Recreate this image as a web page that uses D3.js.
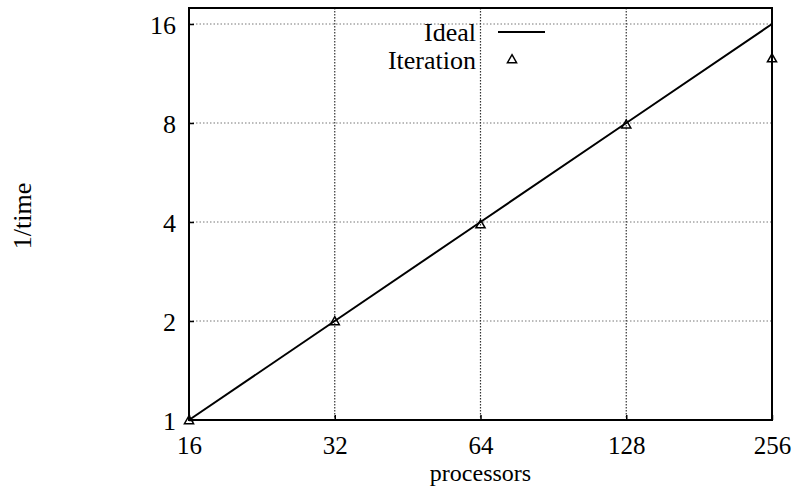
<!DOCTYPE html>
<html>
<head>
<meta charset="utf-8">
<script src="https://cdn.jsdelivr.net/npm/d3@7"></script>
<style>
  html, body { margin: 0; padding: 0; background: #fff; }
  svg { display: block; }
  text { font-family: "Liberation Serif", "Times New Roman", serif; fill: #000; }
</style>
</head>
<body>
<svg id="chart" width="796" height="487"></svg>
<script>
// ---- data ----
const processors = [16, 32, 64, 128, 256];
const idealValues = [1, 2, 4, 8, 16];
const iterationValues = [1, 2, 3.94, 7.93, 12.6];
const xTickLabels = ["16", "32", "64", "128", "256"];
const yTicks = [1, 2, 4, 8, 16];
const yTickLabels = ["1", "2", "4", "8", "16"];
const legendLabels = ["Ideal", "Iteration"];

// ---- layout ----
const mLeft = 189, mRight = 772, mTop = 8, mBottom = 420;
const yTopGrid = 24;

const svg = d3.select("#chart");

const x = d3.scaleLog().base(2).domain([16, 256]).range([mLeft, mRight]);
const y = d3.scaleLog().base(2).domain([1, 16]).range([mBottom, yTopGrid]);

// gridlines
const grid = svg.append("g");
grid.selectAll("line.h").data(yTicks.slice(1)).join("line")
  .attr("x1", mLeft).attr("x2", mRight)
  .attr("y1", d => y(d)).attr("y2", d => y(d))
  .attr("stroke", "#777").attr("stroke-width", 1)
  .attr("stroke-dasharray", "1.5,2");
grid.selectAll("line.v").data(processors.slice(1, -1)).join("line")
  .attr("y1", mTop).attr("y2", mBottom)
  .attr("x1", d => x(d)).attr("x2", d => x(d))
  .attr("stroke", "#333").attr("stroke-width", 1.2)
  .attr("stroke-dasharray", "1.5,1.5");

// axes (ticks inward)
const xAxis = d3.axisBottom(x).tickValues(processors)
  .tickFormat((d, i) => xTickLabels[i]).tickSizeInner(-5).tickSizeOuter(0).tickPadding(22);
const gx = svg.append("g").attr("transform", `translate(0,${mBottom})`).call(xAxis);
gx.select(".domain").remove();
gx.selectAll("line").attr("stroke", "#000").attr("stroke-width", 1.5);
gx.selectAll("text").attr("font-size", 25)
  .attr("font-family", "'Liberation Serif', serif").attr("fill", "#000")
  .attr("dy", null).attr("y", 34);

const yAxis = d3.axisLeft(y).tickValues(yTicks)
  .tickFormat((d, i) => yTickLabels[i]).tickSizeInner(-5).tickSizeOuter(0).tickPadding(13);
const gy = svg.append("g").attr("transform", `translate(${mLeft},0)`).call(yAxis);
gy.select(".domain").remove();
gy.selectAll("line").attr("stroke", "#000").attr("stroke-width", 1.5);
gy.selectAll("text").attr("font-size", 26)
  .attr("font-family", "'Liberation Serif', serif").attr("fill", "#000")
  .attr("dy", "0.36em");

// frame
svg.append("rect")
  .attr("x", mLeft).attr("y", mTop)
  .attr("width", mRight - mLeft).attr("height", mBottom - mTop)
  .attr("fill", "none").attr("stroke", "#000").attr("stroke-width", 2);

// ideal line
const line = d3.line().x(d => x(d[0])).y(d => y(d[1]));
svg.append("path")
  .datum(processors.map((p, i) => [p, idealValues[i]]))
  .attr("d", line)
  .attr("fill", "none").attr("stroke", "#000").attr("stroke-width", 2);

// iteration markers
const tri = d3.symbol().type(d3.symbolTriangle).size(36);
svg.selectAll("path.pt").data(processors.map((p, i) => [p, iterationValues[i]])).join("path")
  .attr("class", "pt")
  .attr("d", tri)
  .attr("transform", d => `translate(${x(d[0])},${y(d[1]) + 1})`)
  .attr("fill", "none").attr("stroke", "#000").attr("stroke-width", 1.5);

// legend
const lg = svg.append("g");
lg.append("text").attr("x", 476).attr("y", 41).attr("text-anchor", "end")
  .attr("font-size", 26).text(legendLabels[0]);
lg.append("line").attr("x1", 498).attr("x2", 545).attr("y1", 32).attr("y2", 32)
  .attr("stroke", "#000").attr("stroke-width", 2);
lg.append("text").attr("x", 476).attr("y", 69).attr("text-anchor", "end")
  .attr("font-size", 26).text(legendLabels[1]);
lg.append("path").attr("d", tri).attr("transform", "translate(512,60)")
  .attr("fill", "none").attr("stroke", "#000").attr("stroke-width", 1.5);

// axis titles
svg.append("text").attr("x", (mLeft + mRight) / 2).attr("y", 481)
  .attr("text-anchor", "middle").attr("font-size", 24).text("processors");
svg.append("text").attr("transform", `translate(31,216) rotate(-90)`)
  .attr("text-anchor", "middle").attr("font-size", 26).text("1/time");
</script>
</body>
</html>
